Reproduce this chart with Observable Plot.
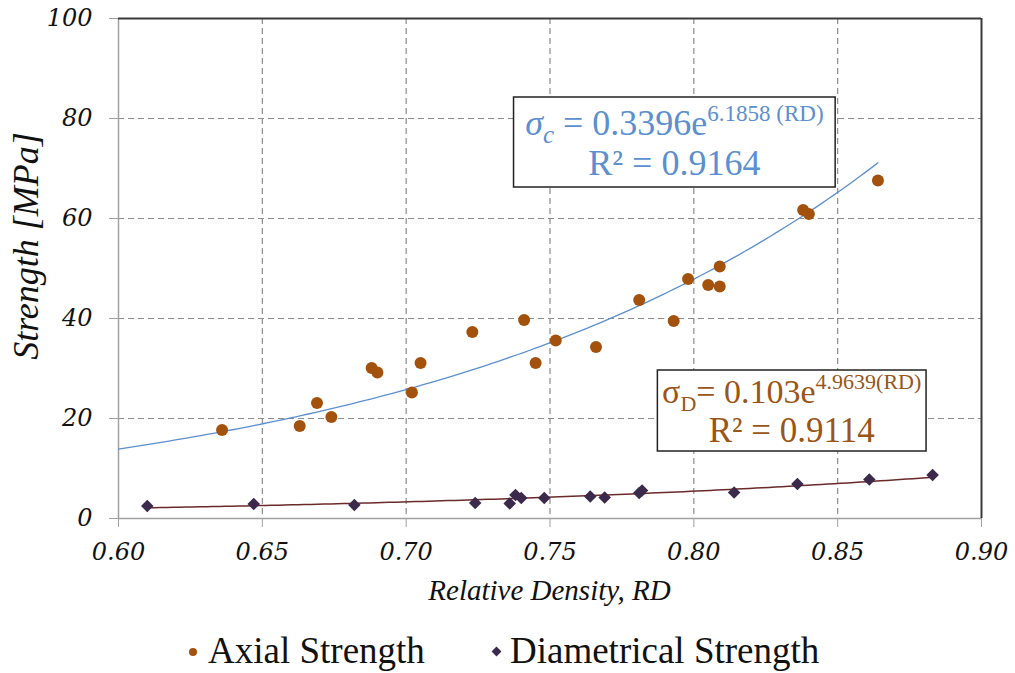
<!DOCTYPE html>
<html><head><meta charset="utf-8">
<script src="https://cdn.jsdelivr.net/npm/d3@7"></script>
<script src="https://cdn.jsdelivr.net/npm/@observablehq/plot@0.6"></script>
<style>
body{margin:0;background:#fff;}
#wrap{position:relative;width:1015px;height:673px;font-family:'Liberation Serif',serif;}
#ov{position:absolute;left:0;top:0;width:1015px;height:615px;pointer-events:none;z-index:2;}
.t{position:absolute;width:600px;text-align:center;white-space:nowrap;}
#legend{position:absolute;left:0;top:615px;width:1015px;height:58px;}
.lg{position:absolute;top:16px;font-size:37px;line-height:40px;color:#111;white-space:nowrap;}
.mk{position:absolute;top:33px;width:8px;height:8px;}
</style></head><body>
<div id="wrap"><div id="chart"></div><div id="ov"></div><div id="legend"></div></div>
<script>
// Axial strength (circles)
const axialRD = [0.636,0.663,0.669,0.674,0.688,0.690,0.702,0.705,0.723,0.741,0.745,0.752,0.766,0.781,0.793,0.798,0.805,0.809,0.809,0.838,0.840,0.864];
const axialStrength = [17.7,18.5,23.1,20.3,30.1,29.2,25.2,31.1,37.3,39.7,31.1,35.6,34.3,43.7,39.5,47.9,46.7,46.4,50.4,61.7,60.9,67.6];
// Diametrical strength (diamonds)
const diamRD = [0.610,0.647,0.682,0.724,0.736,0.738,0.740,0.748,0.764,0.769,0.781,0.782,0.814,0.836,0.861,0.883];
const diamStrength = [2.5,2.9,2.7,3.1,3.0,4.7,4.1,4.1,4.4,4.2,5.1,5.6,5.2,6.9,7.8,8.7];
// Fitted exponential trendlines as printed on the chart: a * e^(b*RD)
const axialFit = [0.3396, 6.1858];
const axialFitRange = [0.60, 0.864];
const diamFit = [0.103, 4.9639];
const diamFitRange = [0.610, 0.883];
const xTicks = [0.60,0.65,0.70,0.75,0.80,0.85,0.90];
const yTicks = [0,20,40,60,80,100];
const legendLabels = ["Axial Strength","Diametrical Strength"];

const axialData = axialRD.map((x,i)=>({x, y:axialStrength[i]}));
const diamData = diamRD.map((x,i)=>({x, y:diamStrength[i]}));
function curve(coef, range){
  const n = 120, out = [];
  for(let i=0;i<=n;i++){const x = range[0]+(range[1]-range[0])*i/n; out.push({x, y:coef[0]*Math.exp(coef[1]*x)});}
  return out;
}
const cAxial = "#a3520e", cDiam = "#3b2a4c", cBlue = "#5b8fcf", cBrown = "#9a5518";
const TICKFONT = "DejaVu Serif";

const chart = Plot.plot({
  width: 1015, height: 615,
  marginTop: 18, marginBottom: 97, marginLeft: 118, marginRight: 34,
  x: {domain: [0.60, 0.90]},
  y: {domain: [0, 100]},
  marks: [
    Plot.gridX([0.65,0.70,0.75,0.80,0.85], {stroke: "#8c8c8c", strokeOpacity: 1, strokeDasharray: "6,4", strokeWidth: 1.2}),
    Plot.gridY([20,40,60,80], {stroke: "#8c8c8c", strokeOpacity: 1, strokeDasharray: "6,4", strokeWidth: 1.2}),
    Plot.ruleX([0.60], {stroke: "#a0a0a0", strokeWidth: 1.5}),
    Plot.ruleY([0], {stroke: "#a0a0a0", strokeWidth: 1.5}),
    Plot.ruleY([100], {stroke: "#3a3a3a", strokeWidth: 2}),
    Plot.ruleX([0.90], {stroke: "#3a3a3a", strokeWidth: 2}),
    Plot.axisX(xTicks, {tickFormat: d3.format(".2f"), tickSize: 9, tickPadding: 15, stroke: "#a0a0a0", label: null, fill: "#111", fontSize: 24, fontStyle: "italic", fontFamily: TICKFONT}),
    Plot.axisY(yTicks, {tickSize: 9, tickPadding: 17, stroke: "#a0a0a0", label: null, fill: "#111", fontSize: 24, fontStyle: "italic", fontFamily: TICKFONT}),
    Plot.line(curve(axialFit, axialFitRange), {x: "x", y: "y", stroke: cBlue, strokeWidth: 1.3}),
    Plot.line(curve(diamFit, diamFitRange), {x: "x", y: "y", stroke: "#6b2a2a", strokeWidth: 1.5}),
    Plot.dot(axialData, {x: "x", y: "y", r: 6, fill: cAxial, stroke: "none"}),
    Plot.dot(diamData, {x: "x", y: "y", r: 5, symbol: "square", rotate: 45, fill: cDiam, stroke: "none"}),
    Plot.rect([{x1: 0.7375, x2: 0.8493, y1: 66.2, y2: 84.2}], {x1: "x1", x2: "x2", y1: "y1", y2: "y2", fill: "#fff", stroke: "#222", strokeWidth: 1.5}),
    Plot.rect([{x1: 0.7875, x2: 0.8809, y1: 13.4, y2: 29.6}], {x1: "x1", x2: "x2", y1: "y1", y2: "y2", fill: "#fff", stroke: "#222", strokeWidth: 1.5})
  ]
});
document.getElementById("chart").appendChild(chart);
d3.select(chart).selectAll("text").attr("font-family", TICKFONT);

const sx = v => chart.scale("x").apply(v);
const sy = v => chart.scale("y").apply(v);

// text overlay (HTML, serif), positioned with Plot's scales
const ov = document.getElementById("ov");
function label(html, cx, baseline, size, extra = "") {
  const d = document.createElement("div");
  d.className = "t";
  d.style.cssText = `left:${cx - 300}px;top:${baseline - 0.8375 * size}px;font-size:${size}px;line-height:${size}px;${extra}`;
  d.innerHTML = html;
  ov.appendChild(d);
  return d;
}

// axis titles
label("Relative Density, RD", (sx(0.60) + sx(0.90)) / 2, 600, 29, "font-style:italic;color:#111;");
const yt = label("Strength [MPa]", 26, 0, 36, "font-style:italic;color:#111;");
yt.style.top = `${(sy(0) + sy(100)) / 2 - 22 - 18}px`;
yt.style.transform = "rotate(-90deg)";

// equation box 1
const cx1 = sx((0.7375 + 0.8493) / 2);
label(`<i>σ</i><span style="font-size:25px;position:relative;top:8px;font-style:italic">c</span> = 0.3396e<span style="font-size:23px;position:relative;top:-14px">6.1858 (RD)</span>`,
  cx1, sy(76.6), 36, `color:${cBlue};`);
label("R² = 0.9164", cx1, sy(68.6), 36, `color:${cBlue};`);

// equation box 2
const cx2 = sx((0.7875 + 0.8809) / 2);
label(`σ<span style="font-size:22px;position:relative;top:8px">D</span>= 0.103e<span style="font-size:22px;position:relative;top:-14px">4.9639(RD)</span>`,
  cx2, sy(23.0), 34, `color:${cBrown};`);
label("R² = 0.9114", cx2, sy(15.2), 35, `color:${cBrown};`);

// legend (HTML only)
const lg = document.getElementById("legend");
lg.innerHTML = `
<span class="mk" style="left:189px;border-radius:50%;background:${cAxial}"></span>
<span class="lg" style="left:208px">${legendLabels[0]}</span>
<span class="mk" style="left:493px;width:7px;height:7px;transform:rotate(45deg);background:${cDiam}"></span>
<span class="lg" style="left:510px">${legendLabels[1]}</span>`;
</script>
</body></html>
